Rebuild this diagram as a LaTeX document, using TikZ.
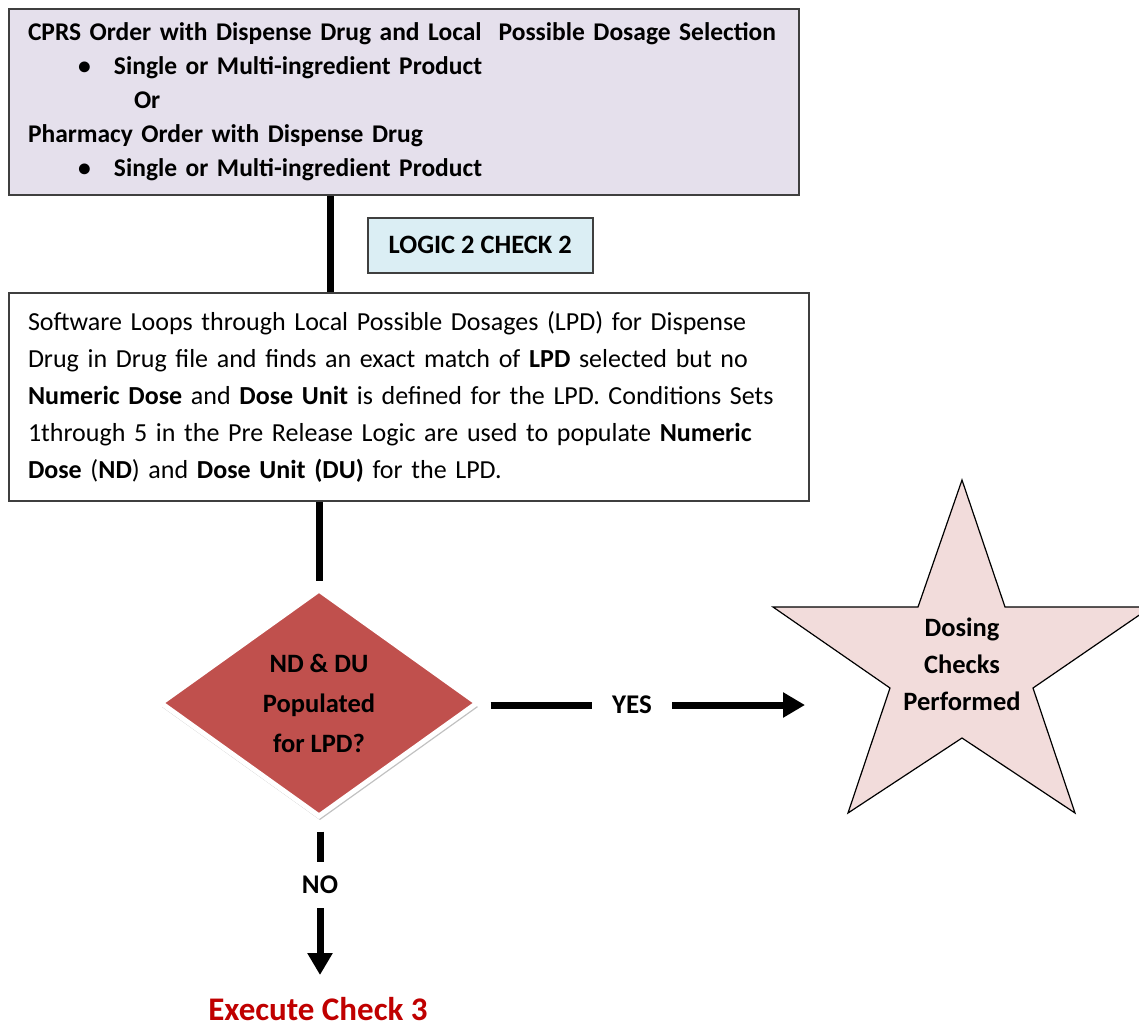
\documentclass[tikz,border=0pt]{standalone}
\usepackage{fontspec}
\setmainfont{Carlito}
\usetikzlibrary{shapes.geometric,arrows.meta,shadows}

\definecolor{boxlav}{HTML}{E5E0EC}
\definecolor{boxblue}{HTML}{DBEEF4}
\definecolor{diared}{HTML}{C0504D}
\definecolor{starpink}{HTML}{F2DCDB}
\definecolor{execred}{HTML}{C00000}
\definecolor{frame}{HTML}{3F3F3F}

\begin{document}
\begin{tikzpicture}[x=1pt,y=-1pt,
  flowbox/.style={draw=frame, line width=2pt, anchor=north west, align=left},
  conn/.style={line width=7pt},
  connarrow/.style={line width=7pt, -{Triangle[length=22pt,width=24pt]}},
  lbl/.style={font=\fontsize{27}{30}\selectfont\bfseries, inner ysep=0pt}]

\useasboundingbox[fill=white] (0,0) rectangle (1139,1030);

% order box
\node[flowbox, fill=boxlav, minimum width=790pt, minimum height=186pt,
      text width=760pt, inner xsep=15pt, inner ysep=0pt,
      font=\fontsize{25.5}{34}\selectfont\bfseries] (orders) at (8,8)
{\hspace*{4pt}CPRS Order with Dispense Drug and Local\ \ Possible Dosage Selection\\
 \hspace*{54pt}\makebox[36pt][l]{\textbullet}Single or Multi-ingredient Product\\
 \hspace*{110pt}Or\\
 \hspace*{4pt}Pharmacy Order with Dispense Drug\\
 \hspace*{54pt}\makebox[36pt][l]{\textbullet}Single or Multi-ingredient Product};

% check label
\node[draw=frame, line width=1.5pt, fill=boxblue, anchor=north west,
      minimum width=225pt, minimum height=55pt, inner sep=0pt,
      font=\fontsize{26.5}{30}\selectfont\bfseries] (logic) at (367,217)
{LOGIC 2 CHECK 2};

% detail box
\node[flowbox, fill=white, minimum width=800pt, minimum height=208pt,
      text width=770pt, inner xsep=15pt, inner ysep=0pt,
      font=\fontsize{26}{37}\selectfont] (detail) at (8,292)
{\hspace*{4pt}Software Loops through Local Possible Dosages (LPD) for Dispense\\
 \hspace*{4pt}Drug in Drug file and finds an\ exact match of \textbf{LPD} selected but no\\
 \hspace*{4pt}\textbf{Numeric Dose} and \textbf{Dose Unit} is defined for the LPD. Conditions Sets\\
 \hspace*{4pt}1through 5 in\ the Pre Release Logic are used to populate \textbf{Numeric}\\
 \hspace*{4pt}\textbf{Dose} (\textbf{ND}) and \textbf{Dose Unit (DU)} for the LPD.};

% decision
\node[diamond, fill=diared, draw=white, line width=5pt, aspect=1.4,
      minimum width=318pt, minimum height=228pt, inner sep=0pt,
      drop shadow={shadow xshift=1pt, shadow yshift=-4pt, fill=black!40, opacity=0.6},
      align=center, font=\fontsize{26.5}{40}\selectfont\bfseries] (dia) at (319,703)
{ND \& DU\\Populated\\for LPD?};

% star outcome
\coordinate (s1) at (962,480);
\coordinate (s2) at (1005,607);
\coordinate (s3) at (1151,607);
\coordinate (s4) at (1033,688);
\coordinate (s5) at (1075,813);
\coordinate (s6) at (962,738);
\coordinate (s7) at (848,813);
\coordinate (s8) at (890,688);
\coordinate (s9) at (773,607);
\coordinate (s10) at (918,607);
\draw[fill=starpink, line width=1.2pt, line join=miter]
  (s1) -- (s2) -- (s3) -- (s4) -- (s5) -- (s6) -- (s7) -- (s8) -- (s9) -- (s10) -- cycle;
\node[align=center, font=\fontsize{26.5}{37}\selectfont\bfseries] (dosing) at (962,664)
{Dosing\\Checks\\Performed};

% result label
\node[font=\fontsize{33}{36}\selectfont\bfseries, text=execred, inner sep=0pt] (exec) at (318,1009)
{Execute Check 3};

% connectors
\coordinate (c1) at (330,0);
\draw[conn] (orders.south west -| c1) -- (detail.north west -| c1);
\draw[conn] (detail.south -| dia.north) -- ([yshift=6pt]dia.north);

\node[lbl, inner xsep=20pt] (yes) at (632,705) {YES};
\coordinate (yesend) at (805,705);
\draw[conn] ([xshift=10pt,yshift=-2pt]dia.east) -- (yes.west);
\draw[connarrow] (yes.east) -- (yesend);

\node[lbl, inner ysep=14pt] (no) at (320,885) {NO};
\coordinate (noend) at (320,975);
\draw[conn] ([yshift=-12pt]dia.south -| no.north) -- (no.north);
\draw[connarrow] (no.south) -- (noend);

\end{tikzpicture}
\end{document}
